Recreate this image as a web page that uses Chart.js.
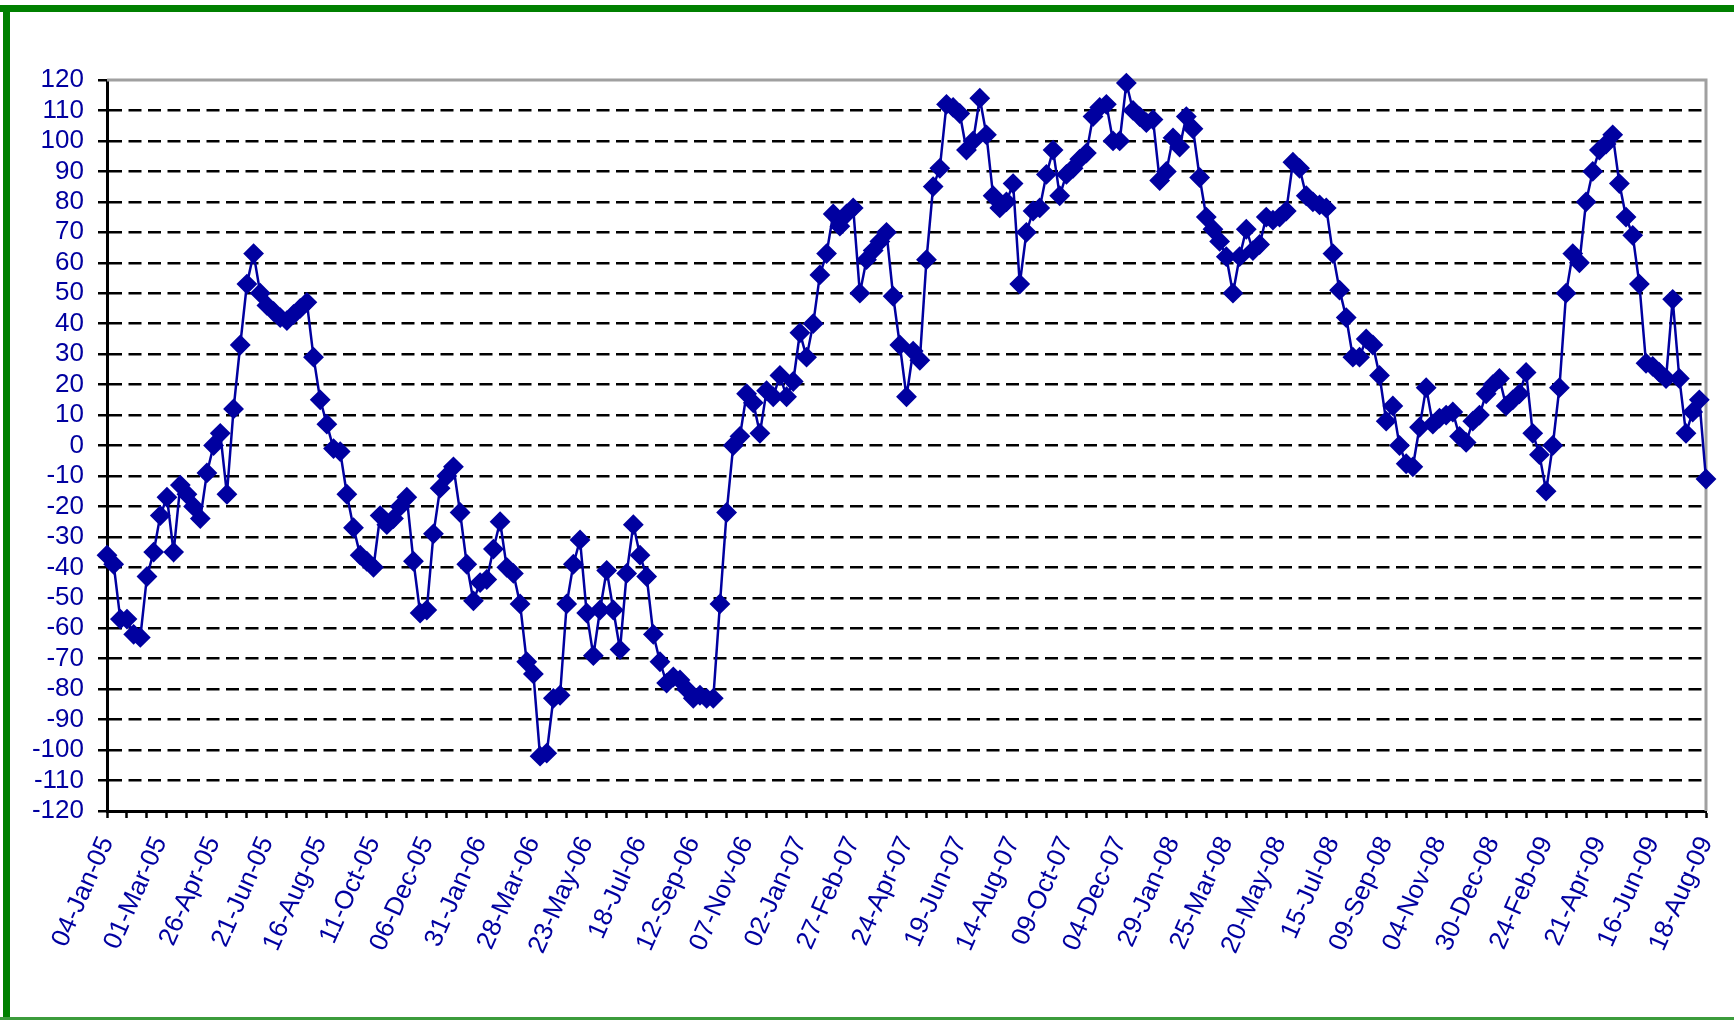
<!DOCTYPE html>
<html>
<head>
<meta charset="utf-8">
<script src="https://cdn.jsdelivr.net/npm/chart.js@4.4.1/dist/chart.umd.min.js"></script>
<style>
  html, body { margin: 0; padding: 0; background: #fff; }
</style>
</head>
<body>
<canvas id="chart" width="1734" height="1020"></canvas>
<script>
// one label every 8 weeks on the category axis
const dateLabels = [
    "04-Jan-05", "01-Mar-05", "26-Apr-05", "21-Jun-05", "16-Aug-05", "11-Oct-05",
    "06-Dec-05", "31-Jan-06", "28-Mar-06", "23-May-06", "18-Jul-06", "12-Sep-06",
    "07-Nov-06", "02-Jan-07", "27-Feb-07", "24-Apr-07", "19-Jun-07", "14-Aug-07",
    "09-Oct-07", "04-Dec-07", "29-Jan-08", "25-Mar-08", "20-May-08", "15-Jul-08",
    "09-Sep-08", "04-Nov-08", "30-Dec-08", "24-Feb-09", "21-Apr-09", "16-Jun-09",
    "18-Aug-09"
];

// weekly values
const values2005 = [
    -36, -39, -57, -57, -62, -63, -43, -35, -23, -17, -35, -13, -16, -20, -24, -9,
    0, 4, -16, 12, 33, 53, 63, 50, 46, 44, 42, 41, 43, 45, 47, 29,
    15, 7, -1, -2, -16, -27, -36, -38, -40, -23, -26, -24, -20, -17, -38, -55,
    -54, -29, -14, -10, -7, -22
];
const values2006 = [
    -39, -51, -45, -44, -34, -25, -40, -42, -52, -71, -75, -102, -101, -83, -82, -52,
    -39, -31, -55, -69, -54, -41, -54, -67, -42, -26, -36, -43, -62, -71, -78, -76,
    -77, -80, -83, -82, -83, -83, -52, -22, 0, 3, 17, 14, 4, 18, 16, 23,
    16, 21
];
const values2007 = [
    37, 29, 40, 56, 63, 76, 72, 76, 78, 50, 61, 64, 67, 70, 49, 33,
    16, 31, 28, 61, 85, 91, 112, 111, 109, 97, 100, 114, 102, 82, 78, 80,
    86, 53, 70, 77, 78, 89, 97, 82, 89, 91, 94, 96, 108, 111, 112, 100,
    100, 119
];
const values2008 = [
    110, 108, 106, 107, 87, 90, 101, 98, 108, 104, 88, 75, 71, 67, 62, 50,
    62, 71, 64, 66, 75, 74, 75, 77, 93, 91, 82, 80, 79, 78, 63, 51,
    42, 29, 29, 35, 33, 23, 8, 13, 0, -6, -7, 6, 19, 7, 9, 10,
    11, 3, 1
];
const values2009 = [
    8, 10, 17, 20, 22, 13, 15, 17, 24, 4, -3, -15, 0, 19, 50, 63,
    60, 80, 90, 97, 99, 102, 86, 75, 69, 53, 27, 26, 24, 22, 48, 22,
    4, 11, 15, -11
];
const values = [...values2005, ...values2006, ...values2007, ...values2008, ...values2009];

const yMin = -120;
const yMax = 120;
const yStep = 10;
const labelEvery = 8;
const tickEvery = 3;

const categories = values.map((_, i) => i % labelEvery === 0 ? dateLabels[i / labelEvery] : "");

const blue = "#0000a0";
Chart.defaults.font.family = "'Liberation Sans', Arial, sans-serif";

// white page, green frame, grey top/right edge of the plot
const frame = {
    id: "frame",
    beforeDraw(chart) {
        const ctx = chart.ctx;
        ctx.save();
        ctx.fillStyle = "#ffffff";
        ctx.fillRect(0, 0, chart.width, chart.height);
        ctx.fillStyle = "#008000";
        ctx.fillRect(0, 5, chart.width, 7);
        ctx.fillRect(3, 5, 7, chart.height - 5);
        ctx.fillStyle = "#3c9c3c";
        ctx.fillRect(0, chart.height - 3, chart.width, 3);
        ctx.restore();
    },
    beforeDatasetsDraw(chart) {
        const {ctx, chartArea} = chart;
        ctx.save();
        ctx.strokeStyle = "#a0a0a0";
        ctx.lineWidth = 3;
        ctx.beginPath();
        ctx.moveTo(chartArea.left, chartArea.top);
        ctx.lineTo(chartArea.right, chartArea.top);
        ctx.lineTo(chartArea.right, chartArea.bottom);
        ctx.stroke();
        ctx.restore();
    }
};

new Chart(document.getElementById("chart").getContext("2d"), {
    type: "line",
    data: {
        labels: categories,
        datasets: [{
            data: values,
            borderColor: blue,
            backgroundColor: blue,
            borderWidth: 2.5,
            pointStyle: "rectRot",
            pointRadius: 9,
            pointHoverRadius: 9,
            pointBorderWidth: 2,
            tension: 0,
            clip: false
        }]
    },
    options: {
        responsive: false,
        animation: false,
        devicePixelRatio: 1,
        layout: { padding: { top: 80, right: 28, left: 0, bottom: 0 } },
        plugins: {
            legend: { display: false },
            tooltip: { enabled: false }
        },
        scales: {
            x: {
                offset: false,
                afterFit: s => {
                    s.height = 209;
                    s.paddingLeft = 0;
                    s.paddingRight = 0;
                },
                grid: {
                    drawOnChartArea: false,
                    tickLength: 7,
                    tickWidth: 2.5,
                    tickColor: c => c.index % tickEvery === 0 ? "#000" : "rgba(0,0,0,0)"
                },
                border: { color: "#000", width: 3 },
                ticks: {
                    autoSkip: false,
                    minRotation: 66,
                    maxRotation: 66,
                    padding: 14,
                    color: blue,
                    font: { size: 26 }
                }
            },
            y: {
                min: yMin,
                max: yMax,
                afterFit: s => { s.width = 107; },
                grid: {
                    color: c => c.tick && c.tick.value === yMax ? "rgba(0,0,0,0)" : "#000",
                    lineWidth: 2.5,
                    tickLength: 9,
                    tickColor: "#000",
                    tickWidth: 2.5
                },
                border: { color: "#000", width: 3, dash: [13, 6.5] },
                ticks: {
                    stepSize: yStep,
                    autoSkip: false,
                    padding: 14,
                    color: blue,
                    font: { size: 26 }
                }
            }
        }
    },
    plugins: [frame]
});
</script>
</body>
</html>
